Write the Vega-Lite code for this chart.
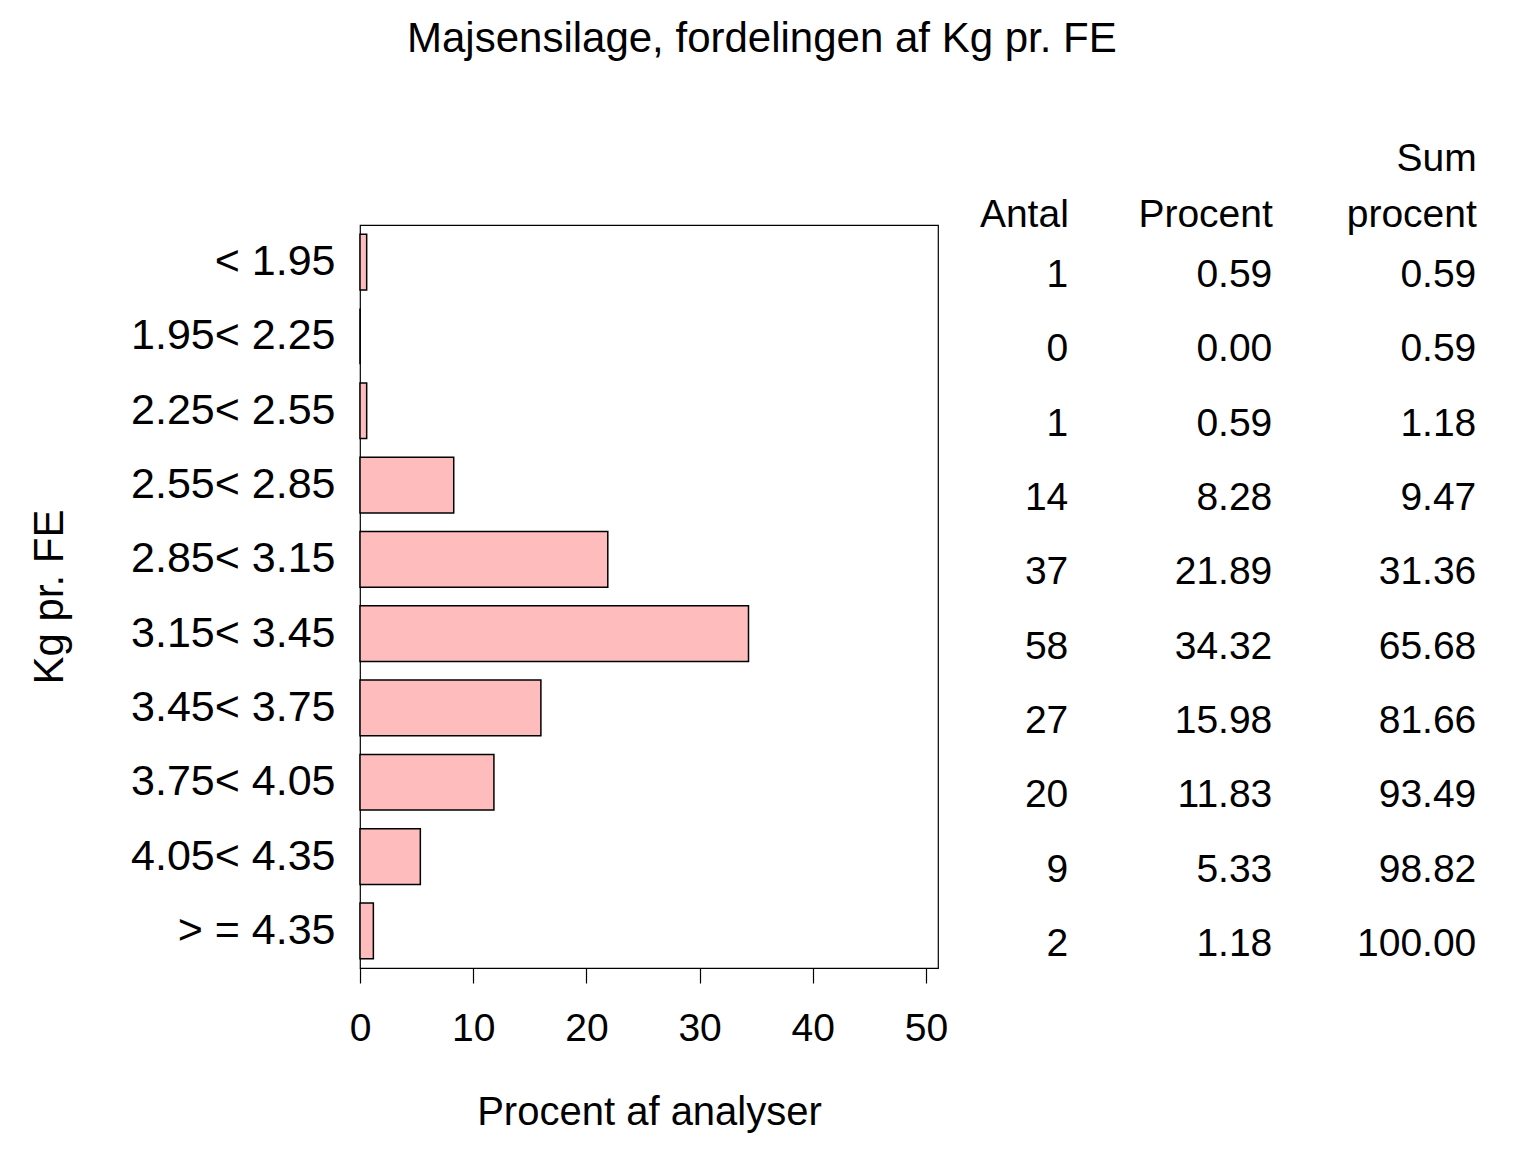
{
  "$schema": "https://vega.github.io/schema/vega-lite/v6.json",
  "autosize": {"type": "pad"},
  "padding": {"left": 27, "top": 18, "right": 5, "bottom": 5},
  "background": "white",
  "bounds": "flush",
  "config": {
    "font": "Liberation Sans",
    "view": {"stroke": "black", "strokeWidth": 1.2},
    "axis": {"labelColor": "black", "titleColor": "black", "labelFont": "Liberation Sans", "titleFont": "Liberation Sans", "titleFontWeight": "normal", "grid": false}
  },
  "title": {"text": "Majsensilage, fordelingen af Kg pr. FE", "fontSize": 42, "fontWeight": "normal", "color": "black", "anchor": "middle", "frame": "bounds", "offset": 78, "dx": 10},
  "data": {"values": [
    {"klasse": "< 1.95", "antal": 1, "procent": 0.59, "sum": 0.59},
    {"klasse": "1.95< 2.25", "antal": 0, "procent": 0.00, "sum": 0.59},
    {"klasse": "2.25< 2.55", "antal": 1, "procent": 0.59, "sum": 1.18},
    {"klasse": "2.55< 2.85", "antal": 14, "procent": 8.28, "sum": 9.47},
    {"klasse": "2.85< 3.15", "antal": 37, "procent": 21.89, "sum": 31.36},
    {"klasse": "3.15< 3.45", "antal": 58, "procent": 34.32, "sum": 65.68},
    {"klasse": "3.45< 3.75", "antal": 27, "procent": 15.98, "sum": 81.66},
    {"klasse": "3.75< 4.05", "antal": 20, "procent": 11.83, "sum": 93.49},
    {"klasse": "4.05< 4.35", "antal": 9, "procent": 5.33, "sum": 98.82},
    {"klasse": "> = 4.35", "antal": 2, "procent": 1.18, "sum": 100.00}
  ]},
  "spacing": 12,
  "hconcat": [
    {
      "width": 578,
      "height": 743,
      "mark": {"type": "bar", "fill": "#ffbcbc", "stroke": "black", "strokeWidth": 1.5},
      "encoding": {
        "y": {"field": "klasse", "type": "nominal", "sort": null,
          "scale": {"paddingInner": 0.25, "paddingOuter": 0.125},
          "axis": {"title": "Kg pr. FE", "titleFontSize": 42, "labelFontSize": 43, "labelLimit": 0, "ticks": false, "domain": false, "labelPadding": 25, "titlePadding": 89, "labelBaseline": "middle"}},
        "x": {"field": "procent", "type": "quantitative",
          "scale": {"domain": [0, 51.06], "nice": false, "zero": true},
          "axis": {"title": "Procent af analyser", "titleFontSize": 40, "labelFontSize": 39, "values": [0, 10, 20, 30, 40, 50], "tickSize": 15, "tickColor": "black", "tickWidth": 1.2, "domain": false, "labelPadding": 26, "titlePadding": 44, "labelFlush": false}}
      }
    },
    {
      "width": 526.3,
      "height": 743,
      "view": {"stroke": null},
      "encoding": {
        "y": {"field": "klasse", "type": "nominal", "sort": null,
          "scale": {"paddingInner": 0.25, "paddingOuter": 0.125}, "axis": null}
      },
      "layer": [
        {"mark": {"type": "text", "align": "right", "baseline": "middle", "fontSize": 39, "dy": 13, "color": "black"},
         "encoding": {"x": {"datum": 1, "type": "quantitative"}, "text": {"field": "antal", "type": "quantitative", "format": "d"}}},
        {"mark": {"type": "text", "align": "right", "baseline": "middle", "fontSize": 39, "dy": 13, "color": "black"},
         "encoding": {"x": {"datum": 2, "type": "quantitative"}, "text": {"field": "procent", "type": "quantitative", "format": ".2f"}}},
        {"mark": {"type": "text", "align": "right", "baseline": "middle", "fontSize": 39, "dy": 13, "color": "black"},
         "encoding": {"x": {"datum": 3, "type": "quantitative",
           "scale": {"domain": [0.42, 3], "nice": false, "zero": false},
           "axis": {"orient": "top", "title": null, "ticks": false, "domain": false, "values": [1, 2, 3], "labelAngle": 0, "labelAlign": "right", "labelBaseline": "bottom", "labelFontSize": 39, "labelLineHeight": 56, "labelPadding": 47, "labelFlush": false, "labelOverlap": false,
             "labelExpr": "datum.value == 1 ? ['', 'Antal'] : datum.value == 2 ? ['', 'Procent'] : ['Sum', 'procent']"}},
           "text": {"field": "sum", "type": "quantitative", "format": ".2f"}}}
      ]
    }
  ]
}
